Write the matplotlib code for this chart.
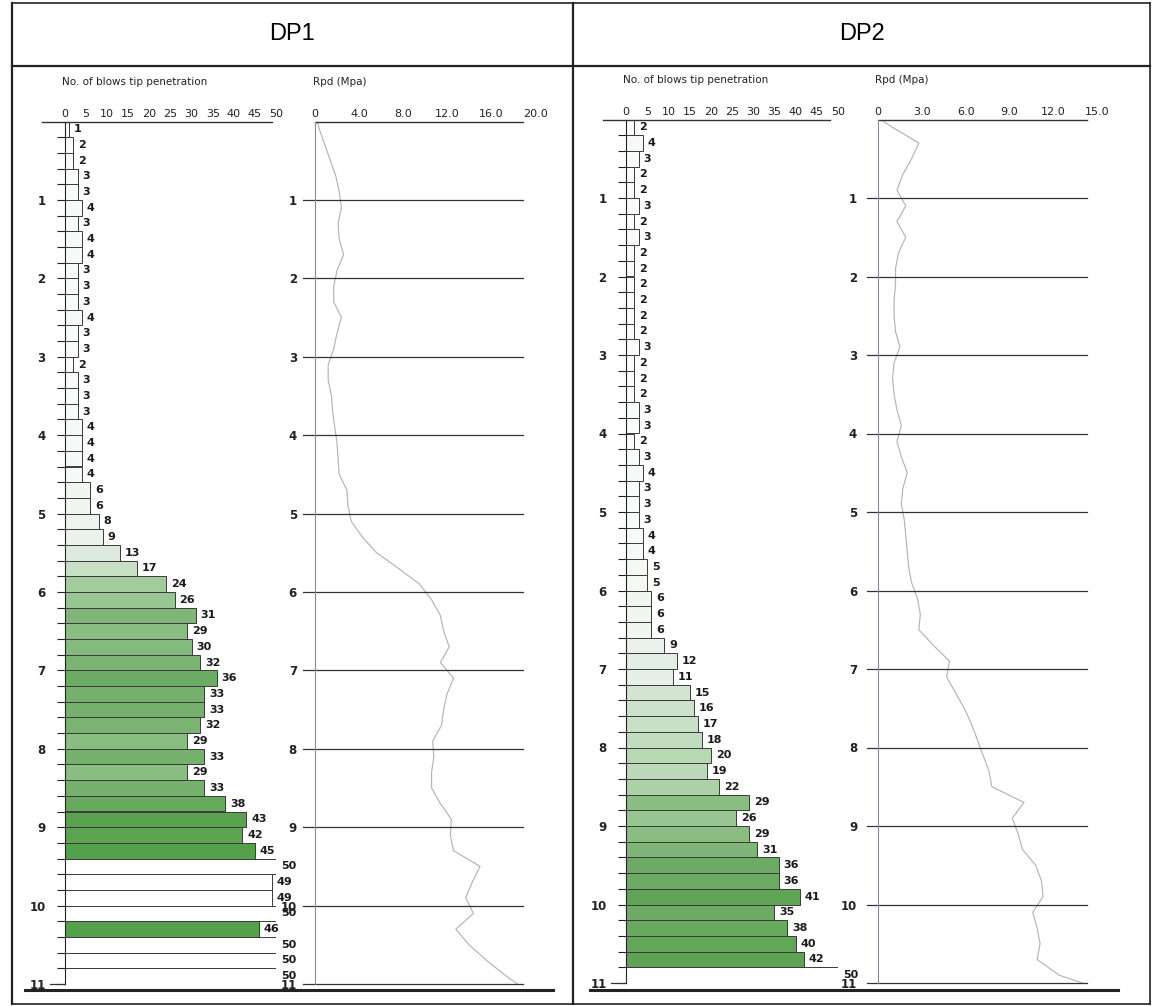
import matplotlib.pyplot as plt
import numpy as np
from matplotlib.colors import LinearSegmentedColormap
from matplotlib.lines import Line2D

plt.rcParams.update({'font.family': 'DejaVu Sans'})

W, H = 1153, 1006
SEG = 0.2  # bar thickness in metres

# ---------------------------------------------------------------- data
titles = ['DP1', 'DP2']
depth_ticks = list(range(1, 12))
blow_ticks = [0, 5, 10, 15, 20, 25, 30, 35, 40, 45, 50]

dp1_blows = [1, 2, 2, 3, 3, 4, 3, 4, 4, 3,
             3, 3, 4, 3, 3, 2, 3, 3, 3, 4,
             4, 4, 4, 6, 6, 8, 9, 13, 17, 24,
             26, 31, 29, 30, 32, 36, 33, 33, 32, 29,
             33, 29, 33, 38, 43, 42, 45, 50, 49, 49,
             50, 46, 50, 50, 50]
dp2_blows = [2, 4, 3, 2, 2, 3, 2, 3, 2, 2,
             2, 2, 2, 2, 3, 2, 2, 2, 3, 3,
             2, 3, 4, 3, 3, 3, 4, 4, 5, 5,
             6, 6, 6, 9, 12, 11, 15, 16, 17, 18,
             20, 19, 22, 29, 26, 29, 31, 36, 36, 41,
             35, 38, 40, 42, 50]

# Rpd read at 0 m, at each 0.2 m step mid-point and at 11 m
dp1_rpd = [0.2,
           0.4, 0.9, 1.4, 1.9, 2.2, 2.4, 2.1, 2.2, 2.6, 2.0,
           1.7, 1.7, 2.4, 2.0, 1.7, 1.2, 1.2, 1.5, 1.6, 1.8,
           2.0, 2.1, 2.2, 2.9, 3.0, 3.3, 4.3, 5.6, 7.6, 9.5,
           10.6, 11.4, 11.7, 12.2, 11.4, 12.6, 12.0, 11.7, 11.5, 10.7,
           10.8, 10.6, 10.6, 11.4, 12.4, 12.3, 12.6, 15.0, 14.3, 13.7,
           14.4, 12.8, 14.0, 15.6, 17.4,
           18.4]
dp2_rpd = [0.2,
           1.0, 2.8, 2.3, 1.7, 1.3, 1.9, 1.3, 1.9, 1.4, 1.2,
           1.2, 1.1, 1.1, 1.2, 1.5, 1.1, 1.0, 1.1, 1.3, 1.6,
           1.3, 1.6, 2.0, 1.7, 1.6, 1.8, 1.9, 2.0, 2.1, 2.3,
           2.7, 2.9, 2.8, 3.8, 4.9, 4.7, 5.3, 5.9, 6.4, 6.8,
           7.2, 7.6, 7.8, 10.0, 9.2, 9.6, 9.9, 10.8, 11.2, 11.3,
           10.6, 10.9, 11.1, 10.9, 12.4,
           14.0]

dp1_rpd_ticks = [0, 4, 8, 12, 16, 20]
dp1_rpd_labels = ['0', '4.0', '8.0', '12.0', '16.0', '20.0']
dp2_rpd_ticks = [0, 3, 6, 9, 12, 15]
dp2_rpd_labels = ['0', '3.0', '6.0', '9.0', '12.0', '15.0']

bar_cmap = LinearSegmentedColormap.from_list(
    'blows', ['#ffffff', '#e6efe8', '#a9d1a4', '#72ae69', '#55a04a'])


def px_axes(fig, x0, x1, y0, y1):
    return fig.add_axes([x0 / W, 1 - y1 / H, (x1 - x0) / W, (y1 - y0) / H])


def fig_line(fig, x0, y0, x1, y1, lw=1.2, color='#222222'):
    fig.add_artist(Line2D([x0 / W, x1 / W], [1 - y0 / H, 1 - y1 / H],
                          transform=fig.transFigure, color=color, lw=lw))


def blows_panel(ax, blows, top_from, top_to):
    tops = np.arange(len(blows)) * SEG
    cols = ['white' if v >= 49 else bar_cmap(min(v, 45) / 45.0) for v in blows]
    ax.barh(tops + SEG / 2, blows, height=SEG, color=cols,
            edgecolor='#3a3a3a', linewidth=0.7)
    for t, v in zip(tops, blows):
        ax.annotate(str(v), (v, t + SEG / 2), xytext=(3.5, 0),
                    textcoords='offset points', ha='left', va='center',
                    fontsize=8, fontweight='bold', color='#1a1a1a')
    ax.set_xlim(0, 50)
    ax.set_ylim(11, 0)
    ax.xaxis.tick_top()
    ax.set_xticks(blow_ticks)
    ax.tick_params(axis='x', length=0, pad=2, labelsize=8, colors='#222222')
    ax.set_yticks(depth_ticks)
    ax.set_yticks(np.arange(1, 55) * SEG, minor=True)
    ax.tick_params(axis='y', which='both', length=6, width=0.8,
                   labelsize=8.5, pad=8, colors='#222222')
    for lab in ax.get_yticklabels():
        lab.set_fontweight('bold')
    for s in ['top', 'right', 'bottom']:
        ax.spines[s].set_visible(False)
    ax.spines['left'].set_color('#222222')
    ax.patch.set_alpha(0)
    ax.axhline(0, xmin=top_from, xmax=top_to, color='#333333', lw=1, clip_on=False)
    ax.axhline(11, xmin=-0.07, xmax=0, color='#333333', lw=0.9, clip_on=False)


def rpd_panel(ax, rpd, xmax, ticks, labels, g_from, g_to, pad):
    depth = np.concatenate([[0.0], np.arange(55) * SEG + SEG / 2, [11.0]])
    ax.plot(rpd, depth, color='#b4b4b4', lw=0.85)
    for d in depth_ticks:
        ax.axhline(d, xmin=g_from, xmax=g_to, color='#333333', lw=0.9, clip_on=False)
    ax.axhline(0, xmin=0, xmax=g_to, color='#333333', lw=1, clip_on=False)
    ax.set_xlim(0, xmax)
    ax.set_ylim(11, 0)
    ax.xaxis.tick_top()
    ax.set_xticks(ticks)
    ax.set_xticklabels(labels)
    ax.tick_params(axis='x', length=0, pad=2, labelsize=8, colors='#222222')
    ax.set_yticks(depth_ticks)
    ax.tick_params(axis='y', length=0, labelsize=8.5, pad=pad, colors='#222222')
    for lab in ax.get_yticklabels():
        lab.set_fontweight('bold')
    for s in ['top', 'right', 'bottom']:
        ax.spines[s].set_visible(False)
    ax.spines['left'].set_color('#8a8a9a')
    ax.patch.set_alpha(0)


fig = plt.figure(figsize=(W / 100, H / 100), dpi=100)

# table frame
fig_line(fig, 12, 3, 1150, 3)
fig_line(fig, 12, 66, 1150, 66, lw=1.6)
fig_line(fig, 12, 3, 12, 1004, lw=1.6)
fig_line(fig, 573, 3, 573, 1004, lw=1.6)
fig_line(fig, 1150, 3, 1150, 1004, lw=1.2)
fig_line(fig, 12, 1004, 1150, 1004)

fig.text(292 / W, 1 - 34 / H, titles[0], fontsize=17, family='Liberation Sans',
         ha='center', va='center')
fig.text(862 / W, 1 - 34 / H, titles[1], fontsize=17, family='Liberation Sans',
         ha='center', va='center')

# DP1
ax1 = px_axes(fig, 65, 276, 121.5, 984)
blows_panel(ax1, dp1_blows, -0.11, 0.98)
ax2 = px_axes(fig, 315, 535, 121.5, 984)
rpd_panel(ax2, dp1_rpd, 20, dp1_rpd_ticks, dp1_rpd_labels, -0.055, 0.945, 13)
fig.text(62 / W, 1 - 82 / H, 'No. of blows tip penetration', fontsize=7.5,
         va='center', color='#222222')
fig.text(313 / W, 1 - 82 / H, 'Rpd (Mpa)', fontsize=7.5, va='center', color='#222222')
fig_line(fig, 25, 990, 553, 990, lw=2.2)

# DP2
ax3 = px_axes(fig, 626, 838, 119.5, 983)
blows_panel(ax3, dp2_blows, -0.108, 0.96)
ax4 = px_axes(fig, 878, 1097, 119.5, 983)
rpd_panel(ax4, dp2_rpd, 15, dp2_rpd_ticks, dp2_rpd_labels, -0.05, 0.955, 15)
fig.text(623 / W, 1 - 80 / H, 'No. of blows tip penetration', fontsize=7.5,
         va='center', color='#222222')
fig.text(875 / W, 1 - 80 / H, 'Rpd (Mpa)', fontsize=7.5, va='center', color='#222222')
fig_line(fig, 590, 990, 1118, 990, lw=2.2)

fig.savefig('out.png', dpi=100)
